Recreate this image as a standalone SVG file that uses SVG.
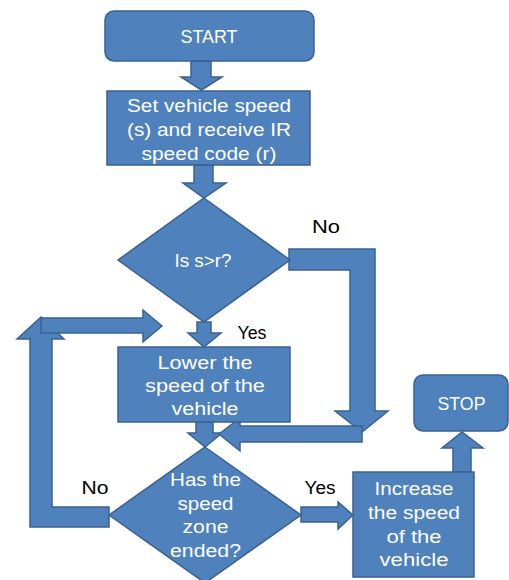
<svg xmlns="http://www.w3.org/2000/svg" width="509" height="580" viewBox="0 0 509 580">
<style>
.shape{fill:#4F81BD;stroke:#3A6191;stroke-width:1.5;stroke-linejoin:miter}
.conn{fill:#4F81BD;stroke:#3A6191;stroke-width:1.5;stroke-linejoin:miter}
.t{font-family:"Liberation Sans",Arial,sans-serif;font-size:17.5px;fill:#FFFFFF;text-anchor:middle}
.lbl{font-family:"Liberation Sans",Arial,sans-serif;font-size:17.5px;fill:#000000;text-anchor:middle}
</style>
<rect width="509" height="580" fill="#FFFFFF"/>
<g id="connectors">
<polygon class="conn" points="191,61 211,61 211,77 222,77 201.5,90 181,77 191,77"/>
<polygon class="conn" points="194,165 213,165 213,183 226,183 204,198 183,183 194,183"/>
<polygon class="conn" points="197,322 211,322 211,333 221,333 204,347 188,333 197,333"/>
<polygon class="conn" points="196,422 213,422 213,433 222,433 205,447 188,433 196,433"/>
<polygon class="conn" points="289,249 375,249 375,411 388,411 362,432 335,411 350,411 350,270 289,270"/>
<polygon class="conn" points="362,426 362,442 240,442 240,451 219,434 240,418 240,426"/>
<polygon class="conn" points="301,507 338,507 338,502 353,515 338,529 338,522 301,522"/>
<polygon class="conn" points="453,472 453,448 442,448 462,432 483,448 471,448 471,472"/>
<polygon class="conn" points="109,507 52,507 52,339 64,339 41,317 17,339 30,339 30,527 109,527"/>
<polygon class="conn" points="41,318 143,318 143,310 162,326 143,342 143,333 41,333"/>
<text class="lbl" x="326" y="233" textLength="28" lengthAdjust="spacingAndGlyphs">No</text>
<text class="lbl" x="252" y="339" textLength="29" lengthAdjust="spacingAndGlyphs">Yes</text>
<text class="lbl" x="95" y="494" textLength="27" lengthAdjust="spacingAndGlyphs">No</text>
<text class="lbl" x="320" y="494" textLength="31" lengthAdjust="spacingAndGlyphs">Yes</text>
</g>
<g id="start">
<rect class="shape" x="105" y="11" width="209" height="50" rx="9"/>
<text class="t" x="209" y="42.5" textLength="57" lengthAdjust="spacingAndGlyphs">START</text>
</g>
<g id="set-speed">
<rect class="shape" x="107" y="91" width="203" height="74"/>
<text class="t" x="209" y="112" textLength="164" lengthAdjust="spacingAndGlyphs">Set vehicle speed</text>
<text class="t" x="209" y="136" textLength="164" lengthAdjust="spacingAndGlyphs">(s) and receive IR</text>
<text class="t" x="209" y="160" textLength="135" lengthAdjust="spacingAndGlyphs">speed code (r)</text>
</g>
<g id="decision-s-gt-r">
<polygon class="shape" points="204,198 290,260 204,322 118,260"/>
<text class="t" x="203" y="267" textLength="57" lengthAdjust="spacingAndGlyphs">Is s&gt;r?</text>
</g>
<g id="lower-speed">
<rect class="shape" x="118" y="347" width="172" height="75"/>
<text class="t" x="205" y="368.5" textLength="95" lengthAdjust="spacingAndGlyphs">Lower the</text>
<text class="t" x="205" y="392" textLength="120" lengthAdjust="spacingAndGlyphs">speed of the</text>
<text class="t" x="205" y="415" textLength="67" lengthAdjust="spacingAndGlyphs">vehicle</text>
</g>
<g id="decision-zone-ended">
<polygon class="shape" points="205,447 301,515 205,583 109,515"/>
<text class="t" x="205.5" y="486" textLength="71" lengthAdjust="spacingAndGlyphs">Has the</text>
<text class="t" x="205.5" y="509.5" textLength="56" lengthAdjust="spacingAndGlyphs">speed</text>
<text class="t" x="205.5" y="533" textLength="46" lengthAdjust="spacingAndGlyphs">zone</text>
<text class="t" x="205.5" y="557" textLength="71" lengthAdjust="spacingAndGlyphs">ended?</text>
</g>
<g id="increase-speed">
<rect class="shape" x="353" y="472" width="121" height="105"/>
<text class="t" x="414" y="495" textLength="79" lengthAdjust="spacingAndGlyphs">Increase</text>
<text class="t" x="414" y="518.5" textLength="92" lengthAdjust="spacingAndGlyphs">the speed</text>
<text class="t" x="414" y="542.5" textLength="55" lengthAdjust="spacingAndGlyphs">of the</text>
<text class="t" x="414" y="566" textLength="69" lengthAdjust="spacingAndGlyphs">vehicle</text>
</g>
<g id="stop">
<rect class="shape" x="414" y="375" width="94" height="56" rx="9"/>
<text class="t" x="461.5" y="410" textLength="48" lengthAdjust="spacingAndGlyphs">STOP</text>
</g>
</svg>
